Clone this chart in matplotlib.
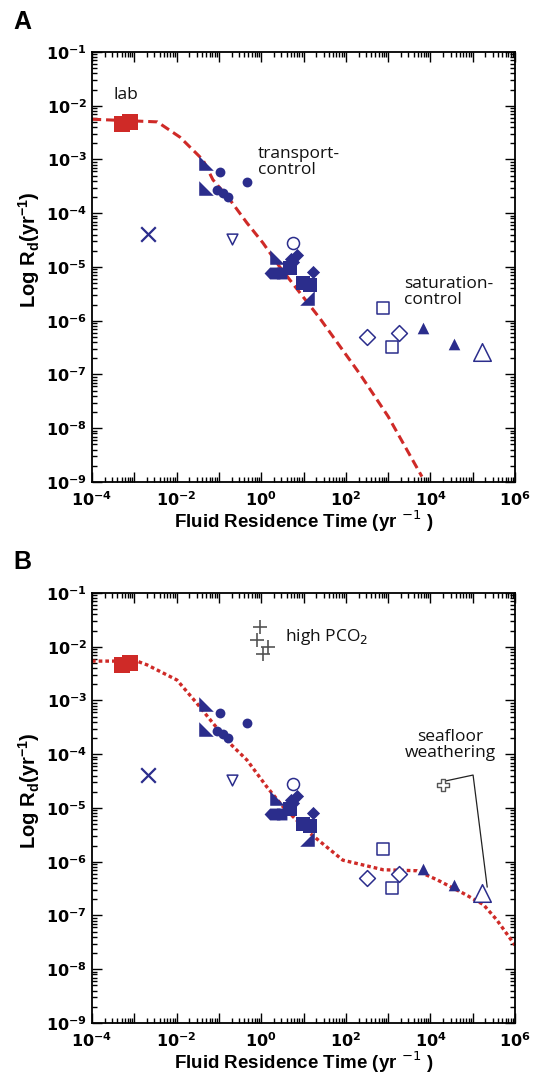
import math

import matplotlib

matplotlib.use("Agg")
import matplotlib.pyplot as plt
from matplotlib.path import Path
from matplotlib.ticker import LogLocator, FuncFormatter, NullFormatter

plt.rcParams["font.family"] = ["Liberation Sans", "DejaVu Sans"]

# --- values (x: residence time, y: Rd, both yr^-1) ---
lab_x = [5.1e-4, 7.9e-4]
lab_y = [4.6e-3, 5.0e-3]

circ_x = [0.107, 0.457, 0.091, 0.126, 0.166]
circ_y = [5.9e-4, 3.8e-4, 2.7e-4, 2.4e-4, 2.0e-4]

rtri_x = [0.050, 0.050, 2.34]
rtri_y = [8.5e-4, 2.95e-4, 1.55e-5]

rtri2_x = [12.0]
rtri2_y = [2.6e-6]

home_x = [1.8, 2.6]
home_y = [7.8e-6, 7.8e-6]

dia_x = [5.0, 5.6, 7.1, 16.6]
dia_y = [1.4e-5, 1.23e-5, 1.66e-5, 8.1e-6]

sq_x = [4.8, 9.8, 14.1]
sq_y = [9.5e-6, 5.0e-6, 4.6e-6]

cross_x = [2.1e-3]
cross_y = [4.1e-5]

odown_x = [0.204]
odown_y = [3.3e-5]

ocirc_x = [5.6]
ocirc_y = [2.8e-5]

osq_x = [760, 1230]
osq_y = [1.74e-6, 3.2e-7]

odia_x = [316, 1820]
odia_y = [5.0e-7, 5.9e-7]

tri_x = [6760, 36300]
tri_y = [7.4e-7, 3.7e-7]

otri_x = [1.66e5]
otri_y = [2.6e-7]

# high PCO2 experiments and seafloor weathering (panel B only)
pco2_x = [0.93, 0.79, 1.45, 1.10]
pco2_y = [2.3e-2, 1.35e-2, 1.0e-2, 7.4e-3]
seafloor_x = [2.0e4]
seafloor_y = [2.7e-5]

# model curves
curve_a_x = [1e-4, 3.5e-3, 1.2e-2, 4.2e-2, 7.2e-2, 0.18, 0.46, 1.1, 2.75,
             24.5, 219, 1000, 6300]
curve_a_y = [5.6e-3, 5.0e-3, 2.6e-3, 9.8e-4, 4.2e-4, 1.8e-4, 6.6e-5, 2.8e-5,
             1.0e-5, 1.1e-6, 1.0e-7, 1.66e-8, 1.26e-9]
curve_b_x = [1e-4, 1.15e-3, 2.0e-3, 1.02e-2, 3.0e-2, 7.2e-2, 0.18, 0.46,
             1.37, 3.3, 14.1, 85, 760, 4800, 1.45e4, 5.9e4, 1.78e5, 3.7e5, 1e6]
curve_b_y = [5.4e-3, 5.4e-3, 4.6e-3, 2.4e-3, 8.9e-4, 3.8e-4, 1.6e-4, 7.8e-5,
             2.45e-5, 1.05e-5, 3.4e-6, 1.07e-6, 7.1e-7, 6.8e-7, 4.6e-7,
             2.6e-7, 1.6e-7, 8.3e-8, 2.8e-8]

# leader from the seafloor label to the two seafloor points
leader_x = [2.35e4, 1.02e5, 2.2e5]
leader_y = [3.2e-5, 4.1e-5, 3.4e-7]

BLUE = "#2b2d8c"
RED = "#cf2a27"
GREY = "#555555"

# custom marker shapes
RTRI = Path([(-1, 1), (-1, -1), (1, -1), (-1, 1)])
RTRI2 = Path([(1, 1), (1, -1), (-1, -1), (1, 1)])
HOME = Path([(-1, 0), (-0.3, 0.75), (1, 0.75), (1, -0.75), (-0.3, -0.75), (-1, 0)])


def _fmt(v, _pos):
    e = int(round(math.log10(v)))
    return rf"$\mathbf{{10^{{{e}}}}}$"


def _fmt_even(v, pos):
    e = int(round(math.log10(v)))
    return _fmt(v, pos) if e % 2 == 0 else ""


def draw_panel(ax, panel):
    ax.set_xscale("log")
    ax.set_yscale("log")
    ax.set_xlim(1e-4, 1e6)
    ax.set_ylim(1e-9, 1e-1)

    if panel == "A":
        ax.plot(curve_a_x, curve_a_y, color=RED, lw=2.2, ls=(0, (3, 1.6)), zorder=2)
    else:
        ax.plot(curve_b_x, curve_b_y, color=RED, lw=2.4, ls=(0, (1.1, 0.9)), zorder=2)

    ax.scatter(lab_x, lab_y, marker="s", s=120, color=RED, zorder=3, lw=0)

    kw = dict(color=BLUE, zorder=3, lw=0)
    ax.scatter(circ_x, circ_y, marker="o", s=50, **kw)
    ax.scatter(rtri_x, rtri_y, marker=RTRI, s=110, **kw)
    ax.scatter(rtri2_x, rtri2_y, marker=RTRI2, s=110, **kw)
    ax.scatter(home_x, home_y, marker=HOME, s=130, **kw)
    ax.scatter(dia_x, dia_y, marker="D", s=45, **kw)
    ax.scatter(sq_x, sq_y, marker="s", s=95, **kw)
    ax.scatter(tri_x, tri_y, marker="^", s=70, **kw)
    ax.scatter(cross_x, cross_y, marker="x", s=110, color=BLUE, lw=1.6, zorder=3)

    okw = dict(facecolors="white", edgecolors=BLUE, linewidths=1.1, zorder=3)
    ax.scatter(odown_x, odown_y, marker="v", s=60, **okw)
    ax.scatter(ocirc_x, ocirc_y, marker="o", s=75, **okw)
    ax.scatter(osq_x, osq_y, marker="s", s=85, **okw)
    ax.scatter(odia_x, odia_y, marker="D", s=65, **okw)
    ax.scatter(otri_x, otri_y, marker="^", s=160, **okw)

    tkw = dict(fontsize=12.5, family=["Open Sans", "DejaVu Sans"], color="#111111")
    if panel == "A":
        ax.text(3.2e-4, 1.6e-2, "lab", ha="left", va="center", **tkw)
        ax.text(0.83, 8.9e-4, "transport-\ncontrol", ha="left", va="center",
                linespacing=1.0, **tkw)
        ax.text(2400, 3.4e-6, "saturation-\ncontrol", ha="left", va="center",
                linespacing=1.0, **tkw)
    else:
        ax.scatter(pco2_x, pco2_y, marker="+", s=90, color=GREY, lw=1.2, zorder=3)
        ax.scatter(seafloor_x, seafloor_y, marker="P", s=70, facecolors="white",
                   edgecolors=GREY, linewidths=1.0, zorder=3)
        ax.plot(leader_x, leader_y, color="#222222", lw=0.9, zorder=2)
        ax.text(3.6, 1.5e-2, r"high PCO$_2$", ha="left", va="center", **tkw)
        ax.text(2.9e4, 1.5e-4, "seafloor\nweathering", ha="center", va="center",
                linespacing=1.0, **tkw)

    ax.xaxis.set_major_locator(LogLocator(base=10, numticks=20))
    ax.xaxis.set_minor_locator(LogLocator(base=10, subs=range(2, 10), numticks=200))
    ax.yaxis.set_major_locator(LogLocator(base=10, numticks=20))
    ax.yaxis.set_minor_locator(LogLocator(base=10, subs=range(2, 10), numticks=200))
    ax.xaxis.set_major_formatter(FuncFormatter(_fmt_even))
    ax.yaxis.set_major_formatter(FuncFormatter(_fmt))
    ax.xaxis.set_minor_formatter(NullFormatter())
    ax.yaxis.set_minor_formatter(NullFormatter())
    ax.tick_params(which="both", direction="in", top=True, right=True,
                   labelsize=11.5, width=1.0)
    ax.tick_params(which="major", length=7)
    ax.tick_params(which="minor", length=3.5)
    ax.tick_params(axis="x", which="major", pad=6)
    for sp in ax.spines.values():
        sp.set_linewidth(1.3)

    ax.set_xlabel(r"Fluid Residence Time (yr $^{-1}$ )", fontsize=13.5,
                  fontweight="bold")
    ax.set_ylabel(r"Log R$_\mathregular{d}$(yr$^\mathregular{-1}$)", fontsize=14.5,
                  fontweight="bold")
    ax.xaxis.set_label_coords(0.5, -0.062)
    ax.yaxis.set_label_coords(-0.118, 0.54)


fig = plt.figure(figsize=(5.39, 10.89), dpi=100)
ax_a = fig.add_axes([0.1707, 0.5574, 0.7848, 0.3949])
ax_b = fig.add_axes([0.1707, 0.0606, 0.7848, 0.3949])
draw_panel(ax_a, "A")
draw_panel(ax_b, "B")
fig.text(0.041, 0.980, "A", fontsize=18, fontweight="bold", ha="center", va="center")
fig.text(0.041, 0.484, "B", fontsize=18, fontweight="bold", ha="center", va="center")

fig.savefig("out.png", dpi=100)
